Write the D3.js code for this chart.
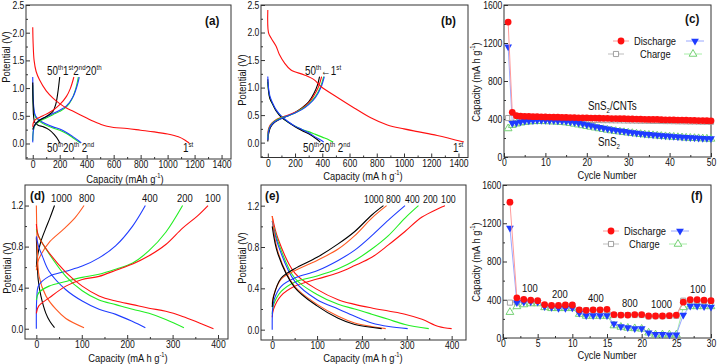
<!DOCTYPE html>
<html><head><meta charset="utf-8">
<script src="https://cdn.jsdelivr.net/npm/d3@7"></script>
<style>body{margin:0;background:#fff}svg{display:block;font-family:Arial,"Liberation Sans",sans-serif}</style>
</head><body><script>
// ---- panel (a): SnS2/CNTs voltage profiles [capacity, V]
var aDis1 = [[0,2.1],[3,1.8],[10,1.5],[25,1.3],[50,1.15],[100,0.95],[150,0.82],[200,0.72],[250,0.64],[300,0.58],[350,0.52],[400,0.46],[450,0.4],[500,0.35],[550,0.31],[600,0.29],[700,0.27],[800,0.24],[900,0.21],[1000,0.17],[1080,0.12],[1130,0.06],[1160,0.01]];
var aCha1 = [[0,0.3],[5,0.38],[20,0.43],[50,0.47],[100,0.53],[150,0.6],[200,0.7],[250,0.85],[280,1.0],[305,1.2]];
var aCha2 = [[0,0.02],[3,0.2],[10,0.3],[30,0.38],[60,0.44],[100,0.48],[150,0.54],[200,0.6],[250,0.68],[300,0.85],[330,1.05],[345,1.2]];
var aCha20 = [[0,0.05],[3,0.2],[15,0.32],[50,0.4],[100,0.46],[150,0.52],[200,0.58],[250,0.66],[290,0.8],[320,1.0],[338,1.2]];
var aCha50 = [[0,0.25],[10,0.32],[40,0.4],[80,0.46],[120,0.52],[150,0.58],[170,0.7],[185,0.9],[200,1.2]];
var aDis2 = [[0,1.2],[2,0.9],[8,0.65],[20,0.5],[50,0.42],[100,0.35],[150,0.3],[200,0.26],[250,0.2],[300,0.12],[340,0.05],[360,0.01]];
var aDis20 = [[0,1.05],[2,0.8],[8,0.6],[20,0.48],[50,0.4],[100,0.33],[150,0.28],[200,0.24],[250,0.18],[300,0.1],[340,0.03],[355,0.01]];
var aDis50 = [[0,1.1],[2,0.75],[6,0.5],[15,0.38],[40,0.33],[80,0.3],[120,0.25],[160,0.16],[190,0.06],[200,0.01]];

// ---- panel (b): SnS2 voltage profiles
var bDis1 = [[0,2.41],[5,2.0],[24,1.9],[61,1.75],[85,1.6],[122,1.45],[170,1.32],[268,1.23],[341,1.14],[390,1.02],[512,0.82],[634,0.63],[756,0.45],[878,0.32],[1000,0.25],[1100,0.2],[1244,0.13],[1440,0.01]];
var bCha1 = [[0,0.12],[5,0.25],[20,0.33],[50,0.4],[100,0.46],[150,0.5],[200,0.55],[250,0.62],[300,0.72],[340,0.86],[370,1.0],[395,1.2]];
var bCha2 = [[0,0.05],[5,0.2],[20,0.3],[50,0.38],[100,0.44],[150,0.49],[200,0.54],[250,0.6],[300,0.69],[350,0.82],[390,1.0],[415,1.2]];
var bCha20 = [[0,0.08],[5,0.22],[20,0.31],[50,0.39],[100,0.45],[150,0.49],[200,0.54],[250,0.61],[300,0.7],[350,0.84],[385,1.0],[410,1.2]];
var bCha50 = [[0,0.02],[5,0.15],[20,0.28],[50,0.37],[100,0.44],[150,0.49],[200,0.55],[250,0.63],[300,0.74],[340,0.9],[365,1.05],[380,1.2]];
var bDis2 = [[0,1.2],[5,1.0],[15,0.85],[35,0.72],[60,0.6],[100,0.48],[150,0.38],[200,0.3],[250,0.24],[300,0.18],[350,0.1],[400,0.03],[410,0.01]];
var bDis20 = [[0,1.1],[5,0.95],[15,0.82],[35,0.7],[60,0.59],[100,0.47],[150,0.37],[200,0.3],[250,0.24],[300,0.2],[350,0.15],[400,0.1],[450,0.05],[480,0.01]];
var bDis50 = [[0,1.15],[5,0.95],[15,0.8],[35,0.7],[60,0.58],[100,0.46],[150,0.37],[200,0.29],[250,0.22],[300,0.16],[350,0.08],[385,0.01]];

// ---- panel (c): cycling, 50 cycles
var cCycles = d3.range(1, 51);
var cCntDis = [1420,470,435,430,428,427,425,424,423,421,420,419,419,417,416,415,415,413,412,412,410,410,408,407,407,405,404,403,403,401,400,399,398,397,396,395,395,393,392,391,390,389,389,387,386,385,384,384,382,381];
var cCntCha = [410,412,405,402,400,400,399,398,398,397,396,396,395,395,394,393,393,392,391,391,390,390,389,388,388,387,386,386,385,384,384,383,382,382,381,380,380,379,378,378,377,376,376,375,374,374,373,372,372,371];
var cSnDis = [1160,355,360,370,378,382,385,386,386,386,385,384,382,380,377,372,366,358,349,340,331,322,313,305,297,290,283,276,270,264,258,253,248,243,239,235,231,227,223,220,217,214,211,208,205,202,200,198,196,194];
var cSnCha = [300,335,350,360,367,372,375,376,376,375,374,372,370,367,362,356,348,340,332,324,316,308,300,292,285,278,272,266,260,255,250,245,240,236,232,228,224,220,217,214,211,208,205,202,200,198,196,194,192,190];

// ---- panel (d): SnS2 rate profiles
var dCha100 = [[0,0.15],[5,0.22],[28,0.3],[65,0.415],[101,0.48],[138,0.51],[175,0.57],[212,0.63],[248,0.71],[285,0.82],[322,0.98],[355,1.1],[378,1.2]];
var dCha200 = [[0,0.28],[5,0.35],[28,0.415],[65,0.46],[101,0.5],[138,0.53],[175,0.58],[212,0.64],[248,0.76],[285,0.94],[322,1.2]];
var dCha400 = [[0,0.0],[1,0.3],[5,0.42],[28,0.51],[65,0.56],[101,0.61],[138,0.69],[175,0.81],[212,1.0],[240,1.2]];
var dCha800 = [[0,0.57],[3,0.65],[10,0.72],[30,0.85],[60,0.97],[85,1.08],[105,1.2]];
var dCha1000 = [[0,0.6],[3,0.72],[10,0.85],[20,0.97],[30,1.08],[40,1.2]];
var dDis100 = [[0,1.02],[5,0.9],[28,0.74],[65,0.55],[101,0.415],[138,0.32],[175,0.27],[212,0.235],[248,0.2],[285,0.17],[322,0.12],[359,0.056],[390,0.0]];
var dDis200 = [[0,0.97],[5,0.9],[28,0.73],[65,0.51],[101,0.37],[138,0.28],[175,0.235],[212,0.19],[248,0.15],[285,0.09],[325,0.01]];
var dDis400 = [[0,0.9],[5,0.8],[13,0.71],[28,0.56],[65,0.38],[101,0.27],[138,0.19],[175,0.14],[212,0.07],[240,0.01]];
var dDis800 = [[0,1.2],[1,0.95],[2,0.8],[6,0.51],[21,0.32],[43,0.19],[65,0.1],[105,0.01]];
var dDis1000 = [[0,0.89],[2,0.65],[4,0.48],[10,0.32],[21,0.15],[30,0.07],[40,0.01]];

// ---- panel (e): SnS2/CNTs rate profiles
var eCha100 = [[0,0.12],[3,0.2],[20,0.33],[50,0.42],[100,0.49],[147,0.55],[184,0.62],[222,0.7],[259,0.82],[296,0.95],[334,1.09],[385,1.2]];
var eCha200 = [[0,0.15],[3,0.24],[20,0.37],[50,0.46],[100,0.52],[147,0.59],[184,0.67],[222,0.78],[259,0.91],[296,1.08],[326,1.2]];
var eCha400 = [[0,0.0],[1,0.2],[5,0.3],[20,0.42],[50,0.5],[100,0.57],[147,0.67],[184,0.77],[222,0.91],[259,1.06],[296,1.2]];
var eCha800 = [[0,0.25],[3,0.33],[20,0.49],[50,0.57],[100,0.67],[147,0.78],[184,0.91],[222,1.08],[255,1.2]];
var eCha1000 = [[0,0.22],[3,0.32],[20,0.5],[50,0.59],[100,0.7],[147,0.83],[184,0.95],[222,1.11],[248,1.2]];
var eDis100 = [[0,1.1],[13,0.88],[50,0.55],[100,0.39],[147,0.29],[184,0.245],[222,0.21],[259,0.18],[296,0.15],[334,0.1],[371,0.03],[400,0.01]];
var eDis200 = [[0,1.05],[13,0.85],[50,0.5],[100,0.34],[147,0.245],[184,0.2],[222,0.15],[259,0.1],[296,0.05],[349,0.01]];
var eDis400 = [[0,1.05],[13,0.82],[50,0.47],[100,0.29],[147,0.2],[184,0.13],[222,0.065],[260,0.03],[302,0.01]];
var eDis800 = [[0,1.1],[13,0.75],[50,0.42],[100,0.245],[147,0.13],[184,0.065],[222,0.03],[253,0.01]];
var eDis1000 = [[0,1.0],[13,0.73],[50,0.41],[100,0.23],[147,0.11],[184,0.05],[244,0.01]];

// ---- panel (f): rate capability, 30 cycles
var fCycles = d3.range(1, 31);
var fCntDis = [1420,420,405,395,390,350,340,340,345,345,295,290,295,295,300,245,240,240,245,245,230,230,230,235,240,375,400,400,395,390];
var fCntCha = [370,370,385,385,385,340,335,335,340,340,290,290,290,290,290,240,240,240,240,240,225,228,228,230,232,390,390,385,385,385];
var fSnDis = [1150,370,375,380,375,330,320,310,310,315,260,235,235,235,235,150,120,110,100,100,55,40,40,35,35,240,335,335,330,325];
var fSnCha = [270,330,350,360,360,320,310,310,310,310,250,230,230,230,230,130,115,105,100,95,55,35,35,35,35,320,330,330,330,330];
var fRates = ["100","200","400","800","1000","100"];

var RED = "#ff1010", GREEN = "#22ee22", BLUE = "#1f3cff", ORANGE = "#ff5a22", BLACK = "#000";

var svg = d3.select("body").append("svg").attr("width", 718).attr("height", 364);

function fmt1(d) { return d3.format(".1f")(d); }
function fmtD(d) { return d3.format("d")(d); }

function panel(o) {
  var x = d3.scaleLinear().domain(o.xDom).range([o.l, o.r]);
  var y = d3.scaleLinear().domain(o.yDom).range([o.b, o.t]);
  var g = svg.append("g");
  function ax(gen, vals, size, f, tr, minor) {
    var a = g.append("g").attr("transform", tr)
      .call(gen.tickValues(vals).tickSize(size).tickPadding(2).tickFormat(f));
    a.attr("font-family", null).attr("font-size", null);
    a.select(".domain").remove();
    a.selectAll("line").attr("stroke", "#333");
    if (minor) a.selectAll("text").remove();
    else a.selectAll("text").attr("font-size", 10.5).attr("fill", "#111").attr("transform", "scale(0.82,1)");
  }
  ax(d3.axisBottom(x), o.xMinor, -2, null, "translate(0," + o.b + ")", true);
  ax(d3.axisBottom(x), o.xTicks, -4, o.xFmt, "translate(0," + o.b + ")");
  ax(d3.axisLeft(y), o.yMinor, -2, null, "translate(" + o.l + ",0)", true);
  ax(d3.axisLeft(y), o.yTicks, -4, o.yFmt, "translate(" + o.l + ",0)");
  g.append("rect").attr("x", o.l).attr("y", o.t).attr("width", o.r - o.l).attr("height", o.b - o.t)
    .attr("fill", "none").attr("stroke", "#333").attr("stroke-width", 1);
  return { g: g, x: x, y: y };
}

// text with superscripts / subscripts, squeezed horizontally like the source
function rich(x, y, parts, o) {
  o = o || {};
  var fs = o.size || 11;
  var t = svg.append("text")
    .attr("transform", "translate(" + x + "," + y + ") rotate(" + (o.rot || 0) + ") scale(" + (o.sx || 0.85) + ",1)")
    .attr("font-size", fs).attr("text-anchor", o.anchor || "start")
    .attr("font-weight", o.weight || "normal").attr("fill", "#111");
  var shift = 0;
  parts.forEach(function (p) {
    var s = typeof p === "string" ? [p, ""] : p;
    var target = s[1] === "sup" ? -fs * 0.42 : s[1] === "sub" ? fs * 0.28 : 0;
    t.append("tspan").attr("dy", target - shift).attr("font-size", s[1] ? fs * 0.62 : fs).text(s[0]);
    shift = target;
  });
  return t;
}

function curve(p, data, color) {
  p.g.append("path").datum(data)
    .attr("d", d3.line().x(function (d) { return p.x(d[0]); }).y(function (d) { return p.y(d[1]); })
      .curve(d3.curveCatmullRom.alpha(0.5)))
    .attr("fill", "none").attr("stroke", color).attr("stroke-width", 1.1);
}

var STY = {
  cntDis: { line: "#ff9a9a", type: "circle", fill: RED, stroke: "none" },
  cntCha: { line: "#bdbdbd", type: "square", fill: "#fff", stroke: "#999" },
  snDis: { line: "#9aa8ff", type: "down", fill: "#1f3cff", stroke: "none" },
  snCha: { line: "#a8eea8", type: "up", fill: "#fff", stroke: "#66cc66" }
};

function marker(sel, st, cx, cy) {
  var sym, rot = 0, size;
  if (st.type === "circle") { sym = d3.symbolCircle; size = 36; }
  else if (st.type === "square") { sym = d3.symbolSquare; size = 26; }
  else { sym = d3.symbolTriangle; size = 26; if (st.type === "down") rot = 180; }
  sel.append("path").attr("d", d3.symbol().type(sym).size(size)())
    .attr("transform", "translate(" + cx + "," + cy + ") rotate(" + rot + ")")
    .attr("fill", st.fill).attr("stroke", st.stroke).attr("stroke-width", 0.9);
}

function series(p, cyc, vals, st) {
  p.g.append("path").datum(vals)
    .attr("d", d3.line().x(function (d, i) { return p.x(cyc[i]); }).y(function (d) { return p.y(d); }))
    .attr("fill", "none").attr("stroke", st.line).attr("stroke-width", 1);
  vals.forEach(function (v, i) { marker(p.g, st, p.x(cyc[i]), p.y(v)); });
}

function legend(x, y, st1, lab, st2, x2, dx) {
  svg.append("line").attr("x1", x - 8).attr("x2", x + 8).attr("y1", y).attr("y2", y).attr("stroke", st1.line);
  marker(svg, st1, x, y);
  rich(x + dx, y + 4, [lab], { size: 11, sx: 0.85 });
  svg.append("line").attr("x1", x2 - 9).attr("x2", x2 + 9).attr("y1", y).attr("y2", y).attr("stroke", st2.line);
  marker(svg, st2, x2, y);
}

var capTicks = d3.range(0, 1401, 200), capMinor = d3.range(100, 1401, 200);
var vTicks = d3.range(0, 2.51, 0.5), vMinor = [-0.25, 0.25, 0.75, 1.25, 1.75, 2.25];

// (a)
var pa = panel({ l: 26, r: 231, t: 5, b: 159, xDom: [-50, 1470], yDom: [-0.28, 2.5],
  xTicks: capTicks, xMinor: capMinor, xFmt: fmtD, yTicks: vTicks, yMinor: vMinor, yFmt: fmt1 });
curve(pa, aDis20, GREEN); curve(pa, aDis2, BLUE); curve(pa, aDis50, BLACK);
curve(pa, aCha20, GREEN); curve(pa, aCha2, BLUE); curve(pa, aCha50, BLACK);
curve(pa, aCha1, RED); curve(pa, aDis1, RED);
rich(47, 75, ["50", ["th", "sup"], "1", ["st", "sup"], "2", ["nd", "sup"], "20", ["th", "sup"]], { size: 12, sx: 0.82 });
rich(47, 152, ["50", ["th", "sup"], "20", ["th", "sup"], " 2", ["nd", "sup"]], { size: 12, sx: 0.82 });
rich(183, 152, ["1", ["st", "sup"]], { size: 12, sx: 0.82 });
rich(205, 25, ["(a)"], { size: 13, weight: "bold", sx: 0.9 });
rich(10, 57, ["Potential (V)"], { rot: -90, anchor: "middle" });
rich(125, 183, ["Capacity (mAh g", ["-1", "sup"], ")"], { anchor: "middle" });

// (b)
var pb = panel({ l: 261, r: 468, t: 5, b: 157.5, xDom: [-50, 1470], yDom: [-0.27, 2.5],
  xTicks: capTicks, xMinor: capMinor, xFmt: fmtD, yTicks: vTicks, yMinor: vMinor, yFmt: fmt1 });
curve(pb, bDis20, GREEN); curve(pb, bDis50, BLACK); curve(pb, bDis2, BLUE);
curve(pb, bCha50, BLACK); curve(pb, bCha1, RED); curve(pb, bCha20, GREEN); curve(pb, bCha2, BLUE);
curve(pb, bDis1, RED);
rich(305, 75, ["50", ["th", "sup"], "\u2190", "1", ["st", "sup"]], { size: 12, sx: 0.82 });
rich(303, 152, ["50", ["th", "sup"], "20", ["th", "sup"], " 2", ["nd", "sup"]], { size: 12, sx: 0.82 });
rich(453, 152, ["1", ["st", "sup"]], { size: 12, sx: 0.82 });
rich(441, 25, ["(b)"], { size: 13, weight: "bold", sx: 0.9 });
rich(246, 80, ["Potential (V)"], { rot: -90, anchor: "middle" });
rich(363, 179.5, ["Capacity (mA h g", ["-1", "sup"], ")"], { anchor: "middle" });

// (c)
var pc = panel({ l: 504, r: 711, t: 5, b: 157, xDom: [0, 50], yDom: [0, 1600],
  xTicks: d3.range(0, 51, 10), xMinor: d3.range(5, 50, 10), xFmt: fmtD,
  yTicks: d3.range(0, 1601, 400), yMinor: d3.range(200, 1600, 400), yFmt: fmtD });
series(pc, cCycles, cCntCha, STY.cntCha);
series(pc, cCycles, cSnCha, STY.snCha);
series(pc, cCycles, cSnDis, STY.snDis);
series(pc, cCycles, cCntDis, STY.cntDis);
legend(621, 41, STY.cntDis, "Discharge", STY.snDis, 695, 13);
legend(616, 54, STY.cntCha, "Charge", STY.snCha, 693, 24);
rich(588, 110, ["SnS", ["2", "sub"], "/CNTs"], { size: 12, sx: 0.82 });
rich(598, 146, ["SnS", ["2", "sub"]], { size: 12, sx: 0.82 });
rich(685, 23, ["(c)"], { size: 13, weight: "bold", sx: 0.9 });
rich(480, 82, ["Capacity (mA h g", ["-1", "sup"], ")"], { rot: -90, anchor: "middle" });
rich(607, 178.5, ["Cycle Number"], { anchor: "middle" });

// (d)
var rTicksX = d3.range(0, 401, 100), rMinorX = d3.range(50, 401, 100);
var rTicksY = [0, 0.4, 0.8, 1.2], rMinorY = [0.2, 0.6, 1.0];
var pd = panel({ l: 25, r: 228, t: 185, b: 339, xDom: [-25, 422], yDom: [-0.1, 1.4],
  xTicks: rTicksX, xMinor: rMinorX, xFmt: fmtD, yTicks: rTicksY, yMinor: rMinorY, yFmt: fmt1 });
[[dDis1000, BLACK], [dCha1000, BLACK], [dDis800, ORANGE], [dCha800, ORANGE], [dDis400, BLUE], [dCha400, BLUE],
 [dDis200, GREEN], [dCha200, GREEN], [dDis100, RED], [dCha100, RED]].forEach(function (c) { curve(pd, c[0], c[1]); });
rich(30, 200, ["(d)"], { size: 13, weight: "bold", sx: 0.9 });
[["1000", 51], ["800", 79], ["400", 142], ["200", 177], ["100", 205]].forEach(function (l) { rich(l[1], 202, [l[0]], { size: 11.5, sx: 0.82 }); });
rich(10.5, 268, ["Potential (V)"], { rot: -90, anchor: "middle" });
rich(128, 362, ["Capacity (mA h g", ["-1", "sup"], ")"], { anchor: "middle" });

// (e)
var pe = panel({ l: 261, r: 466, t: 185, b: 340, xDom: [-25, 432], yDom: [-0.1, 1.4],
  xTicks: rTicksX, xMinor: rMinorX, xFmt: fmtD, yTicks: rTicksY, yMinor: rMinorY, yFmt: fmt1 });
[[eDis100, RED], [eCha100, RED], [eDis200, GREEN], [eCha200, GREEN], [eDis400, BLUE], [eCha400, BLUE],
 [eDis800, ORANGE], [eCha800, ORANGE], [eDis1000, BLACK], [eCha1000, BLACK]].forEach(function (c) { curve(pe, c[0], c[1]); });
rich(265, 200, ["(e)"], { size: 13, weight: "bold", sx: 0.9 });
[["1000", 364], ["800", 386], ["400", 405], ["200", 423], ["100", 441]].forEach(function (l) { rich(l[1], 203, [l[0]], { size: 11, sx: 0.8 }); });
rich(246, 258, ["Potential (V)"], { rot: -90, anchor: "middle" });
rich(363, 362, ["Capacity (mA h g", ["-1", "sup"], ")"], { anchor: "middle" });

// (f)
var pf = panel({ l: 503, r: 711, t: 185, b: 338, xDom: [0, 30], yDom: [0, 1600],
  xTicks: d3.range(0, 31, 5), xMinor: d3.range(2.5, 30, 5), xFmt: fmtD,
  yTicks: d3.range(0, 1601, 400), yMinor: d3.range(200, 1600, 400), yFmt: fmtD });
series(pf, fCycles, fCntCha, STY.cntCha);
series(pf, fCycles, fSnCha, STY.snCha);
series(pf, fCycles, fSnDis, STY.snDis);
series(pf, fCycles, fCntDis, STY.cntDis);
legend(611, 231, STY.cntDis, "Discharge", STY.snDis, 680, 13);
legend(611, 244, STY.cntCha, "Charge", STY.snCha, 678, 18);
[[522, 292], [552, 298], [588, 302], [622, 307], [651, 308], [690, 293]].forEach(function (p, i) { rich(p[0], p[1], [fRates[i]], { size: 11.5, sx: 0.82 }); });
rich(691, 200, ["(f)"], { size: 13, weight: "bold", sx: 0.9 });
rich(480, 262, ["Capacity (mA h g", ["-1", "sup"], ")"], { rot: -90, anchor: "middle" });
rich(607, 359, ["Cycle Number"], { anchor: "middle" });
</script></body></html>
